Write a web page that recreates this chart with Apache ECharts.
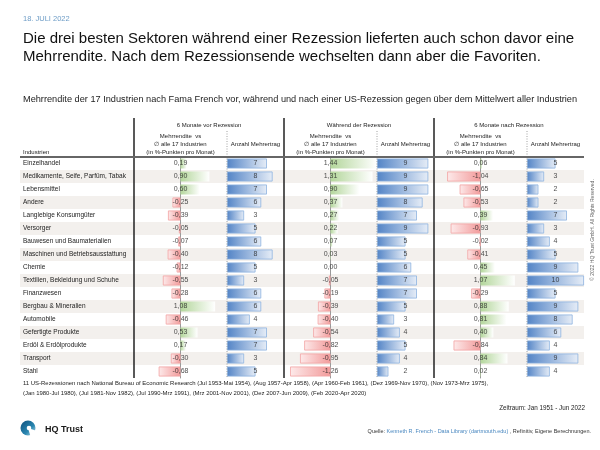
<!DOCTYPE html>
<html><head><meta charset="utf-8">
<script src="https://cdn.jsdelivr.net/npm/echarts@6/dist/echarts.min.js"></script>
<style>html,body{margin:0;padding:0;background:#fff}#c{width:600px;height:450px}</style>
</head><body><div id="c"></div>
<script>
var industries = ['Einzelhandel','Medikamente, Seife, Parfüm, Tabak','Lebensmittel','Andere','Langlebige Konsumgüter','Versorger','Bauwesen und Baumaterialien','Maschinen und Betriebsausstattung','Chemie','Textilien, Bekleidung und Schuhe','Finanzwesen','Bergbau & Mineralien','Automobile','Gefertigte Produkte','Erdöl & Erdölprodukte','Transport','Stahl'];
var groupTitles = ['6 Monate vor Rezession','Während der Rezession','6 Monate nach Rezession'];
var excessBefore = [0.19,0.90,0.60,-0.25,-0.39,-0.05,-0.07,-0.40,-0.12,-0.55,-0.28,1.08,-0.46,0.53,0.17,-0.30,-0.68];
var countBefore  = [7,8,7,6,3,5,6,8,5,3,6,6,4,7,7,3,5];
var excessDuring = [1.44,1.31,0.90,0.37,0.27,0.22,0.07,0.03,0.00,-0.05,-0.19,-0.39,-0.40,-0.54,-0.82,-0.95,-1.26];
var countDuring  = [9,9,9,8,7,9,5,5,6,7,7,5,3,4,5,4,2];
var excessAfter  = [0.06,-1.04,-0.65,-0.53,0.39,-0.93,-0.02,-0.41,0.45,1.07,-0.29,0.88,0.81,0.40,-0.84,0.84,0.02];
var countAfter   = [5,3,2,2,7,3,4,5,9,10,5,9,8,6,4,9,4];

var excess = [excessBefore, excessDuring, excessAfter];
var counts = [countBefore, countDuring, countAfter];

var chart = echarts.init(document.getElementById('c'), null, {renderer:'canvas'});
var FONT = '"Liberation Sans", Arial, sans-serif';
var TOP = 157, H = 221;
var fmt = function(v){ return v.toFixed(2).replace('.', ','); };

var grids = [{left:20, top:TOP, width:564, height:H}];
var xAxes = [{gridIndex:0, type:'value', min:0, max:1, show:false}];
var yAxes = [{gridIndex:0, type:'category', data:industries, inverse:true,
  axisLine:{show:false}, axisTick:{show:false},
  axisLabel:{inside:true, margin:3, fontFamily:FONT, fontSize:6.5, color:'#222'},
  splitLine:{show:false},
  splitArea:{show:true, areaStyle:{color:['#ffffff','#f3f0ed']}}}];
var series = [];

var greenGrad = new echarts.graphic.LinearGradient(0,0,1,0,[{offset:0,color:'#b3d69b'},{offset:1,color:'#ffffff'}]);
var redGrad = new echarts.graphic.LinearGradient(0,0,1,0,[{offset:0,color:'#fdeaea'},{offset:1,color:'#f29a9a'}]);
var blueGrad = new echarts.graphic.LinearGradient(0,0,1,0,[{offset:0,color:'#5384c6'},{offset:1,color:'#e6edf7'}]);

for (var g=0; g<3; g++){
  var gi = 1 + g*2;
  var x0 = 134 + 150*g;
  grids.push({left:x0, top:TOP, width:93, height:H});
  grids.push({left:x0+93, top:TOP, width:57, height:H});
  xAxes.push({gridIndex:gi, type:'value', min:-1.45, max:1.45, show:false});
  xAxes.push({gridIndex:gi+1, type:'value', min:0, max:10, show:false});
  yAxes.push({gridIndex:gi, type:'category', data:industries, inverse:true,
    axisLine:{show:true, onZero:true, lineStyle:{color:'#9a9a9a', width:1}},
    axisTick:{show:false}, axisLabel:{show:false}, splitLine:{show:false}});
  yAxes.push({gridIndex:gi+1, type:'category', data:industries, inverse:true, show:false});
  (function(vals, cnts, gi){
    series.push({type:'bar', xAxisIndex:gi, yAxisIndex:gi, barWidth:10, silent:true,
      data: vals.map(function(v){
        return v >= 0 ? {value:v, itemStyle:{color:greenGrad}}
                      : {value:v, itemStyle:{color:redGrad, borderColor:'#f2a3a3', borderWidth:0.8}};
      })});
    series.push({type:'scatter', xAxisIndex:gi, yAxisIndex:gi, symbolSize:1, z:5, silent:true,
      itemStyle:{color:'rgba(0,0,0,0)'},
      data: vals.map(function(v,i){ return [0, i, v]; }),
      label:{show:true, position:'inside', fontFamily:FONT, fontSize:7, color:'#222',
        formatter:function(p){ return fmt(p.value[2]); }}});
    series.push({type:'bar', xAxisIndex:gi+1, yAxisIndex:gi+1, barWidth:10, silent:true,
      itemStyle:{color:blueGrad, borderColor:'#8db2e0', borderWidth:0.8},
      data: cnts.slice()});
    series.push({type:'scatter', xAxisIndex:gi+1, yAxisIndex:gi+1, symbolSize:1, z:5, silent:true,
      itemStyle:{color:'rgba(0,0,0,0)'},
      data: cnts.map(function(v,i){ return [5, i, v]; }),
      label:{show:true, position:'inside', fontFamily:FONT, fontSize:7, color:'#222',
        formatter:function(p){ return String(p.value[2]); }}});
  })(excess[g], counts[g], gi);
}

var gr = [];
function txt(x,y,t,o){ o=o||{}; gr.push({type:'text', x:x, y:y, z:10, rotation:o.rot||0,
  style:{text:t, fontFamily:FONT, fontSize:o.size||6, fill:o.color||'#222', fontWeight:o.weight||'normal',
  textAlign:o.align||'left', textVerticalAlign:'middle', rich:o.rich}}); }
function line(x1,y1,x2,y2,c,w,dash){ gr.push({type:'line', z:10, shape:{x1:x1,y1:y1,x2:x2,y2:y2},
  style:{stroke:c, lineWidth:w, lineDash:dash||null}}); }

txt(23,19,'18. JULI 2022',{size:7.5,color:'#6d9cc6'});
txt(23,39,'Die drei besten Sektoren während einer Rezession lieferten auch schon davor eine',{size:15,color:'#111'});
txt(23,57,'Mehrrendite. Nach dem Rezessionsende wechselten dann aber die Favoriten.',{size:15,color:'#111'});
txt(23,99,'Mehrrendite der 17 Industrien nach Fama French vor, während und nach einer US-Rezession gegen über dem Mittelwert aller Industrien',{size:9.2,color:'#222'});

txt(23,152,'Industrien',{size:6});
for (var k=0;k<3;k++){
  var b = 150*k;
  txt(209+b,125,groupTitles[k],{size:6,align:'center'});
  txt(180.5+b,136,'Mehrrendite  vs',{size:6,align:'center'});
  txt(180.5+b,144,'∅ alle 17 Industrien',{size:6,align:'center'});
  txt(180.5+b,152,'(in %-Punkten pro Monat)',{size:6,align:'center'});
  txt(255.5+b,144,'Anzahl Mehrertrag',{size:6,align:'center'});
  line(134+b,118,134+b,378,'#222',1.5);
  line(227+b,131,227+b,378,'#8a8a8a',0.8,[1,1.5]);
}
line(20,157,584,157,'#666',2);

txt(23,383,'11 US-Rezessionen nach National Bureau of Economic Research (Jul 1953-Mai 1954), (Aug 1957-Apr 1958), (Apr 1960-Feb 1961), (Dez 1969-Nov 1970), (Nov 1973-Mrz 1975),',{size:5.95});
txt(23,393,'(Jan 1980-Jul 1980), (Jul 1981-Nov 1982), (Jul 1990-Mrz 1991), (Mrz 2001-Nov 2001), (Dez 2007-Jun 2009), (Feb 2020-Apr 2020)',{size:5.95});
txt(585,408,'Zeitraum: Jan 1951 - Jun 2022',{size:6.3,align:'right'});

txt(591,431,'{a|Quelle: }{b|Kenneth R. French - Data Library (dartmouth.edu)}{a| , Refinitiv, Eigene Berechnungen.}',
  {size:5.5,align:'right',rich:{a:{fontFamily:FONT,fontSize:5.5,fill:'#333'},b:{fontFamily:FONT,fontSize:5.5,fill:'#4a88c0',textDecoration:'underline'}}});
txt(593,230,'© 2022 HQ Trust GmbH. All Rights Reserved.',{size:5,color:'#666',align:'center',rot:Math.PI/2});

// logo
gr.push({type:'circle', z:10, shape:{cx:28, cy:428, r:7.5},
  style:{fill:new echarts.graphic.LinearGradient(0,0,1,1,[{offset:0,color:'#0d4f7c'},{offset:0.6,color:'#2a86b0'},{offset:1,color:'#bfe0ea'}])}});
gr.push({type:'polygon', z:11, shape:{points:[[28,428],[37,431],[37,438],[31,438]]}, style:{fill:'#ffffff'}});
gr.push({type:'circle', z:11, shape:{cx:29, cy:428, r:2.3}, style:{fill:'#ffffff'}});
txt(45,430,'HQ Trust',{size:9,weight:'bold',color:'#1a1a1a'});

chart.setOption({
  animation:false,
  backgroundColor:'#ffffff',
  grid:grids, xAxis:xAxes, yAxis:yAxes, series:series, graphic:gr
});
</script></body></html>
